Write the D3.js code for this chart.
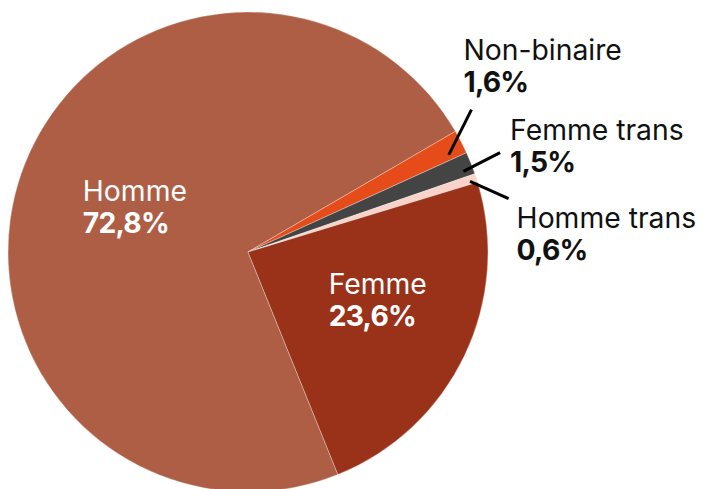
<!DOCTYPE html>
<html>
<head>
<meta charset="utf-8">
<script src="https://cdn.jsdelivr.net/npm/d3@7"></script>
<style>
  body { margin: 0; background: #fff; }
  text { font-family: Inter, "Liberation Sans", sans-serif; }
</style>
</head>
<body>
<svg id="chart"></svg>
<script>
const width = 705;
const height = 489;

// Data
const categories = ["Homme", "Non-binaire", "Femme trans", "Homme trans", "Femme"];
const values = [72.8, 1.6, 1.5, 0.6, 23.6];
const valueLabels = ["72,8%", "1,6%", "1,5%", "0,6%", "23,6%"];
const colors = ["#ad5e45", "#e64c1a", "#444444", "#f8d3c9", "#9a3119"];

const svg = d3.select("#chart")
    .attr("width", width)
    .attr("height", height)
    .attr("viewBox", `0 0 ${width} ${height}`);

const cx = 248, cy = 252, radius = 240;
const deg = Math.PI / 180;

const pie = d3.pie()
    .sort(null)
    .value(d => d)
    .startAngle(-202 * deg)
    .endAngle(158 * deg);

const arc = d3.arc().innerRadius(0).outerRadius(radius);

const arcs = pie(values);

const g = svg.append("g").attr("transform", `translate(${cx},${cy})`);

g.selectAll("path")
    .data(arcs)
    .enter().append("path")
    .attr("d", arc)
    .attr("fill", (d, i) => colors[i])
    .attr("stroke", "rgba(255,255,255,0.45)")
    .attr("stroke-width", 0.7);

// point at angle a (radians, clockwise from top) and distance r
function polar(a, r) {
    return [Math.sin(a) * r, -Math.cos(a) * r];
}

function midAngle(d) { return (d.startAngle + d.endAngle) / 2; }

// label layout: inside labels sit in the slice, outside ones get a leader line
const labelLayout = [
    { inside: true, r: 173, da: -1.6, color: "#fff" },
    { inside: false, rIn: 223, daIn: 1.5, rOut: 265, daOut: -5.2, dx: -8, dy: -50 },
    { inside: false, rIn: 230, daIn: 1.2, rOut: 271, daOut: 0.2, dx: 10, dy: -13 },
    { inside: false, rIn: 233, daIn: 0.3, rOut: 266, daOut: 6.4, dx: 8, dy: 29 },
    { inside: true, r: 91, da: 2, color: "#fff" }
];

const lineGap = 32;

arcs.forEach((d, i) => {
    const L = labelLayout[i];
    const m = midAngle(d);
    let x, y, fill;
    if (L.inside) {
        [x, y] = polar(m + L.da * deg, L.r);
        fill = L.color;
    } else {
        const p1 = polar(m + L.daIn * deg, L.rIn);
        const p2 = polar(m + L.daOut * deg, L.rOut);
        g.append("line")
            .attr("x1", p1[0]).attr("y1", p1[1])
            .attr("x2", p2[0]).attr("y2", p2[1])
            .attr("stroke", "#000")
            .attr("stroke-width", 3);
        x = p2[0] + L.dx;
        y = p2[1] + L.dy;
        fill = "#111";
    }
    const t = g.append("text")
        .attr("x", x)
        .attr("y", y)
        .attr("fill", fill)
        .attr("font-size", 28.3);
    t.append("tspan")
        .attr("x", x)
        .attr("font-weight", 400)
        .text(categories[i]);
    t.append("tspan")
        .attr("x", x)
        .attr("dy", lineGap)
        .attr("font-weight", 700)
        .attr("letter-spacing", -0.8)
        .text(valueLabels[i]);
});
</script>
</body>
</html>
